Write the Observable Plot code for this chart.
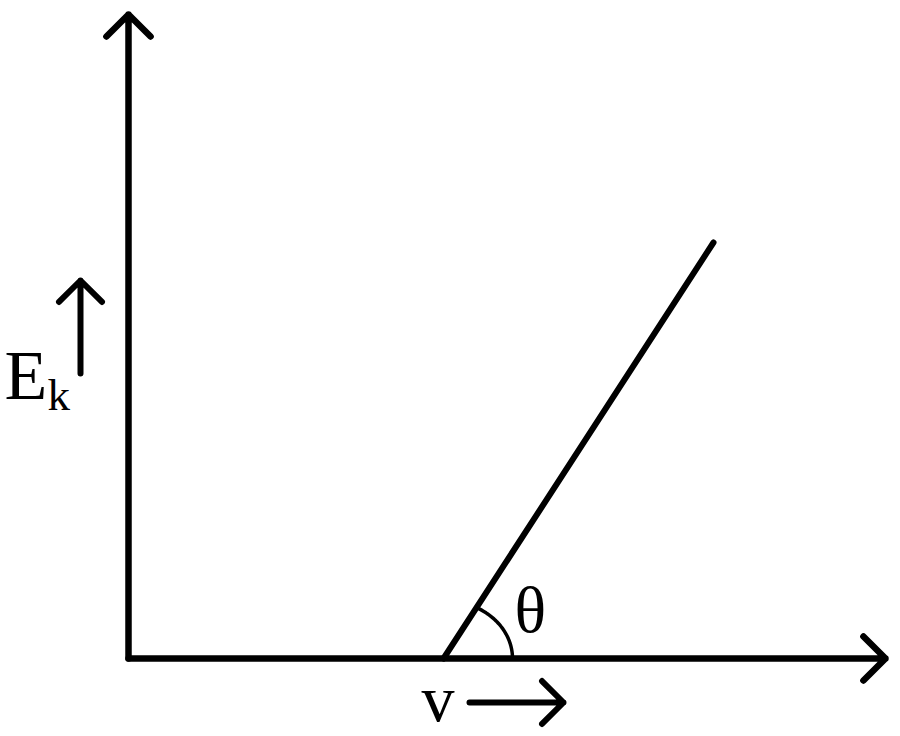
<!DOCTYPE html>
<html><head><meta charset="utf-8">
<script src="https://cdn.jsdelivr.net/npm/d3@7"></script>
<script src="https://cdn.jsdelivr.net/npm/@observablehq/plot@0.6"></script>
<style>html,body{margin:0;padding:0;background:#fff;}</style>
</head><body><div id="chart"></div>
<script>
// Schematic Ek vs frequency (v) of the photoelectric effect; units: arbitrary
const axisXEnd = [0, 757];          // horizontal axis (v) start/end
const axisYEnd = [0, 644];          // vertical axis (Ek) start/end
const lineV = [315, 585];           // frequency values of the Ek line
const lineEk = [0, 416];            // kinetic energy values of the Ek line
const arcRadiusX = 69, arcRadiusY = 58; // angle marker radii (data units)
const labels = ["E", "k", "θ", "v"];

const v0 = lineV[0];
const slopeAngle = Math.atan2(lineEk[1] - lineEk[0], lineV[1] - lineV[0]);
const arc = d3.range(0, 41).map(i => {
  const a = slopeAngle * i / 40;
  const r = 1 / Math.sqrt((Math.cos(a) / arcRadiusX) ** 2 + (Math.sin(a) / arcRadiusY) ** 2);
  return {x: v0 + r * Math.cos(a), y: r * Math.sin(a)};
});
const ekLine = lineV.map((v, i) => ({x: v, y: lineEk[i]}));

const serif = "Liberation Serif, Times New Roman, serif";
const arrowOpts = (sw, hl) => ({x1: "x1", y1: "y1", x2: "x2", y2: "y2", stroke: "black", strokeWidth: sw, headLength: hl, headAngle: 90});
const chart = Plot.plot({
  width: 900, height: 736,
  margin: 0,
  x: {domain: [-128, 772], range: [0, 900], axis: null},
  y: {domain: [-78, 658], range: [736, 0], axis: null},
  marks: [
    Plot.arrow([{x1: axisXEnd[0], y1: 0, x2: axisXEnd[1], y2: 0}], arrowOpts(6.5, 7.2)),
    Plot.arrow([{x1: 0, y1: axisYEnd[0], x2: 0, y2: axisYEnd[1]}], arrowOpts(6.5, 7.2)),
    Plot.line(ekLine, {x: "x", y: "y", stroke: "black", strokeWidth: 6}),
    Plot.line(arc, {x: "x", y: "y", stroke: "black", strokeWidth: 3.5}),
    // Ek label with up arrow
    Plot.arrow([{x1: -48, y1: 285, x2: -48, y2: 378}], arrowOpts(6, 7.6)),
    Plot.text([labels[0]], {x: -124, y: 260, text: d => d, textAnchor: "start", lineAnchor: "bottom", fontSize: 70, fontFamily: serif, fill: "black"}),
    Plot.text([labels[1]], {x: -81, y: 249, text: d => d, textAnchor: "start", lineAnchor: "bottom", fontSize: 45, fontFamily: serif, fill: "black"}),
    // theta
    Plot.text([labels[2]], {x: 386, y: 27, text: d => d, textAnchor: "start", lineAnchor: "bottom", fontSize: 66, fontFamily: serif, fill: "black"}),
    // v label with right arrow
    Plot.text([labels[3]], {x: 293, y: -62, text: d => d, textAnchor: "start", lineAnchor: "bottom", fontSize: 66, fontFamily: serif, fill: "black"}),
    Plot.arrow([{x1: 341, y1: -44, x2: 435, y2: -44}], arrowOpts(6, 7.6))
  ]
});
document.getElementById("chart").appendChild(chart);
</script>
</body></html>
